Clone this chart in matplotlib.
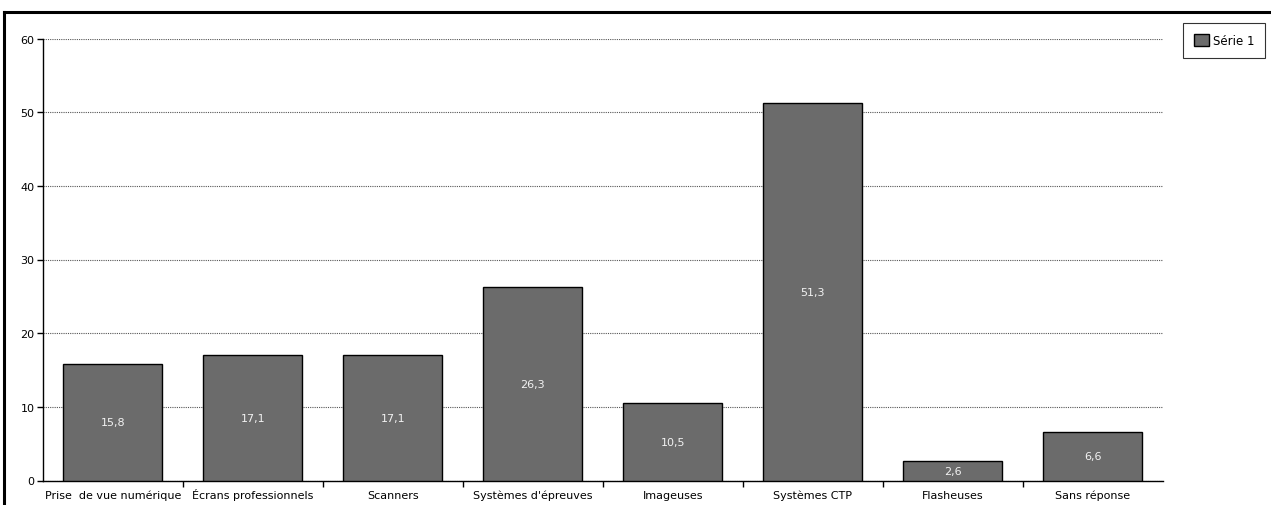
import matplotlib
matplotlib.use("Agg")
import matplotlib.pyplot as plt
from matplotlib.lines import Line2D
from matplotlib.patches import Patch
import numpy as np

categories = ["Prise  de vue numérique", "Écrans professionnels", "Scanners",
              "Systèmes d'épreuves", "Imageuses", "Systèmes CTP",
              "Flasheuses", "Sans réponse"]
values = [15.8, 17.1, 17.1, 26.3, 10.5, 51.3, 2.6, 6.6]
value_labels = ["15,8", "17,1", "17,1", "26,3", "10,5", "51,3", "2,6", "6,6"]
y_ticks = [0, 10, 20, 30, 40, 50, 60]
series_name = "Série 1"

W, H = 1271, 506
fig = plt.figure(figsize=(W / 100, H / 100), dpi=100)
fig.patch.set_facecolor("white")

ax = fig.add_axes([42.7 / W, 1 - 481.5 / H, 1120 / W, (481.5 - 39.5) / H])

x = np.arange(len(categories))
ax.bar(x, values, width=0.71, color="#6b6b6b", edgecolor="black",
       linewidth=1.0, zorder=3)
for xi, v, lab in zip(x, values, value_labels):
    ax.text(xi, v / 2, lab, ha="center", va="center", color="#f2f2f2",
            fontsize=8, zorder=4)

ax.set_xlim(-0.5, len(categories) - 0.5)
ax.set_ylim(0, 60)
ax.set_yticks(y_ticks)
ax.set_yticklabels([str(t) for t in y_ticks], fontsize=8)
ax.yaxis.grid(True, linestyle=(0, (1, 1)), color="#555555", linewidth=0.8, zorder=0)
ax.set_axisbelow(True)

# category boundary ticks on the x axis
ax.set_xticks(np.arange(0.5, len(categories) - 0.5, 1.0))
ax.set_xticklabels([])
ax.tick_params(axis="x", which="major", length=4, direction="out", width=1)
ax.tick_params(axis="y", length=4, width=1, direction="out", pad=2)

# category names on a common baseline under each bar
for xi, name in zip(x, categories):
    ax.annotate(name, xy=(xi, 0), xycoords="data", xytext=(0, -12.5),
                textcoords="offset points", ha="center", va="baseline",
                fontsize=8, annotation_clip=False)

for s in ["top", "right"]:
    ax.spines[s].set_visible(False)
ax.spines["left"].set_linewidth(1.0)
ax.spines["bottom"].set_linewidth(1.0)

leg = fig.legend(handles=[Patch(facecolor="#6b6b6b", edgecolor="black",
                                label=series_name)],
                 loc="upper left", bbox_to_anchor=(1183 / W, 1 - 24 / H),
                 fontsize=8.5, frameon=True, fancybox=False,
                 handlelength=1.3, handleheight=1.3, handletextpad=0.35,
                 borderpad=0.9, borderaxespad=0)
leg.get_frame().set_edgecolor("black")
leg.get_frame().set_linewidth(0.8)

# outer frame lines (top and left)
fig.add_artist(Line2D([3.5 / W, 1], [1 - 12.5 / H, 1 - 12.5 / H],
                      transform=fig.transFigure, color="black", linewidth=2.2))
fig.add_artist(Line2D([3.5 / W, 3.5 / W], [0, 1 - 12.5 / H],
                      transform=fig.transFigure, color="black", linewidth=2.2))

fig.savefig("out.png", dpi=100)
